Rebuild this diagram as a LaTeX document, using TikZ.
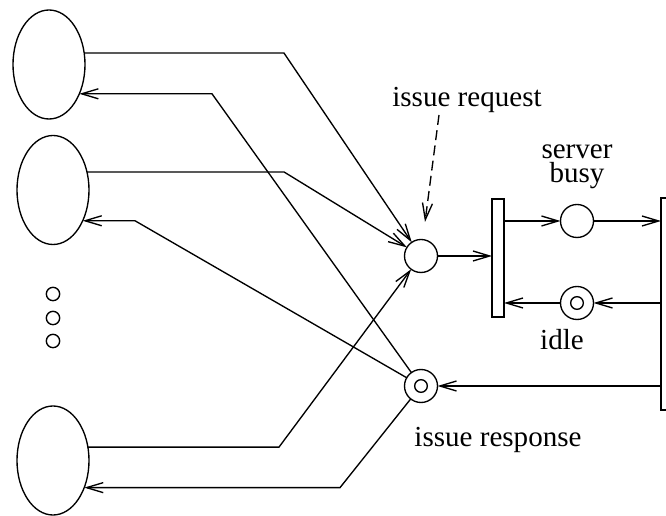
\documentclass[tikz,border=0pt]{standalone}
\usepackage{fontspec}
\setmainfont{Liberation Serif}
\usetikzlibrary{shapes.geometric,arrows.meta}
\begin{document}
\begin{tikzpicture}[x=0.03cm,y=-0.03cm,
  line width=1.15pt,
  every node/.style={inner sep=0pt,outer sep=0pt},
  client/.style={draw,ellipse,minimum width=2.16cm,minimum height=3.27cm},
  place/.style={draw,circle,minimum size=0.99cm},
  bar/.style={draw,rectangle,minimum width=0.36cm},
  dotmark/.style={draw,circle,minimum size=0.4cm},
  lbl/.style={font=\rmfamily\fontsize{24.8}{20.5}\selectfont,align=center},
  arr/.style={-{Straight Barb[length=0.5cm,width=0.3cm,line width=1.15pt]}}
]
\useasboundingbox (0,0) rectangle (666,516);

% clients
\node[client] (e1) at (49,64.5) {};
\node[client] (e2) at (53,190) {};
\node[client] (e3) at (53,460.5) {};

% ellipsis dots
\node[dotmark] (d1) at (53,294) {};
\node[dotmark] (d2) at (53,318) {};
\node[dotmark] (d3) at (53,341) {};

% places
\node[place] (req) at (421,256) {};
\node[place] (resp) at (421,386) {};
\node[place] (busy) at (577,221) {};
\node[place] (idle) at (577,303) {};
\draw (resp) circle[radius=0.19cm];
\draw (idle) circle[radius=0.19cm];

% transitions
\node[bar,minimum height=3.54cm] (t1) at (498,258) {};
\node[bar,minimum height=6.36cm] (t2) at (667,304) {};

% labels
\node[lbl,anchor=base] (lreq) at (467,107) {issue request};
\node[lbl,anchor=base] (lresp) at (498,447) {issue response};
\node[lbl,anchor=base] (lidle) at (562,350) {idle};
\node[lbl] (lbusy) at (577,167) {server\\busy};

% bends of the client connectors
\coordinate (k1) at (284,53);
\coordinate (k2) at (212,94);
\coordinate (k3) at (284,172);
\coordinate (k4) at (135,221);
\coordinate (k5) at (279,447);
\coordinate (k6) at (340,488);

% requests from the clients
\draw[arr] (e1.18) -- (k1 |- e1.18) -- (req);
\draw[arr] (e2.28) -- (k3 |- e2.28) -- (req);
\draw[arr] (e3.21) -- (k5 |- e3.21) -- (req);

% responses back to the clients
\draw[arr] (resp) -- (k2 |- e1.-44) -- (e1.-44);
\draw[arr] (resp) -- (k4 |- e2.-46) -- (e2.-46);
\draw[arr] (resp) -- (k6 |- e3.-41) -- (e3.-41);

% server net
\draw[arr] (req) -- (req -| t1.west);
\draw[arr] (busy -| t1.east) -- (busy);
\draw[arr] (busy) -- (busy -| t2.west);
\draw[arr] (idle -| t2.west) -- (idle);
\draw[arr] (idle) -- (idle -| t1.east);
\draw[arr] (resp -| t2.west) -- (resp);

% pointer from the label
\coordinate (ptip) at (425,222);
\draw[arr,dash pattern=on 0.3cm off 0.16cm] (439,115) -- (ptip);
\end{tikzpicture}
\end{document}
